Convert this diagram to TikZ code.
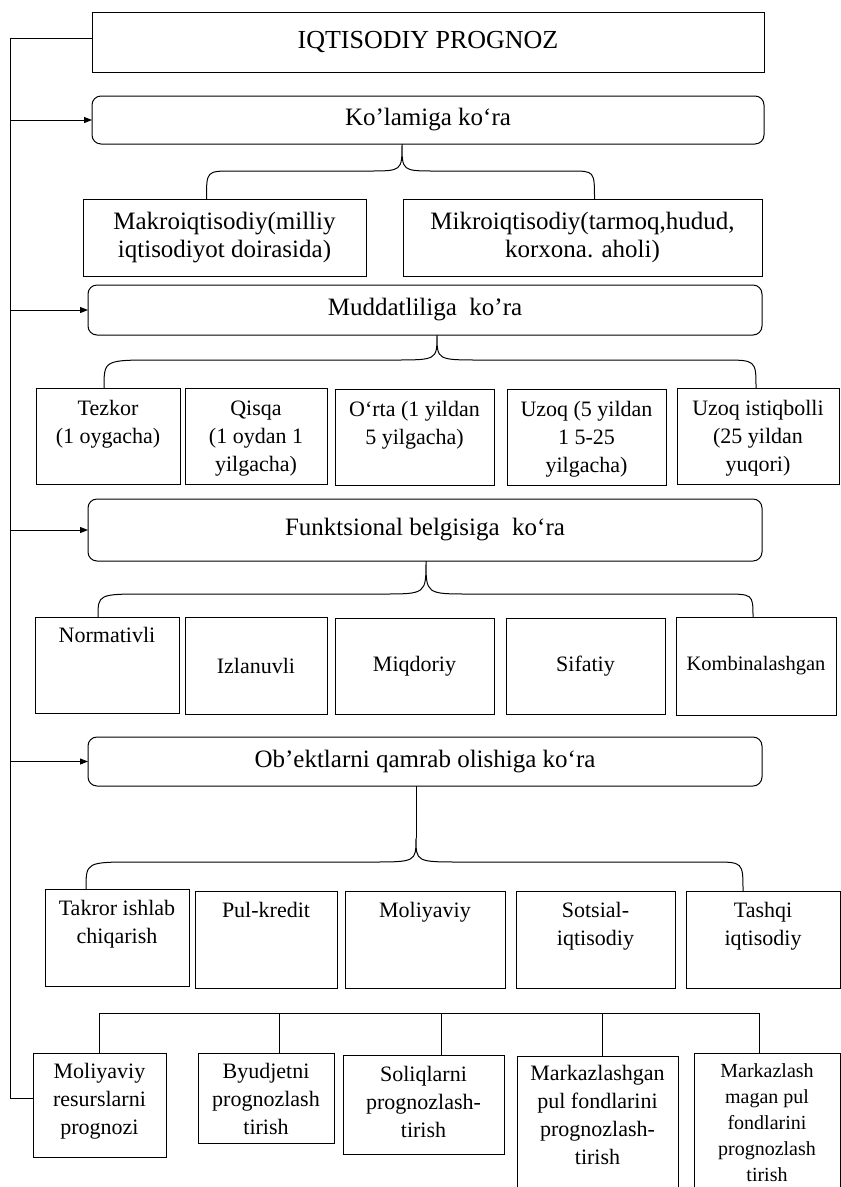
\documentclass[tikz,border=0pt]{standalone}
\usepackage{fontspec}
\setmainfont{Liberation Serif}
\usetikzlibrary{arrows.meta,calc}

% type sizes (1pt of the picture = one unit)
\newcommand\fhead{\fontsize{25}{29}\selectfont}
\newcommand\fmid{\fontsize{22}{28}\selectfont}
\newcommand\fsml{\fontsize{20}{26}\selectfont}

% box with centred text: name, style, x1, y1, x2, y2, text
\newcommand\plainbox[7]{%
  \node[#2, minimum width={#5-#3}, minimum height={#6-#4}] (#1)
    at ({(#3+#5)/2},{(#4+#6)/2}) {#7};}
% box with text hanging from its top edge: name, style, x1, y1, x2, y2, label options, text
\newcommand\hangbox[8]{%
  \node[#2, minimum width={#5-#3}, minimum height={#6-#4},
        label={[toptext,#7]north:{#8}}] (#1)
    at ({(#3+#5)/2},{(#4+#6)/2}) {};}
% curly brace: tip, level, left end, right end, tip reach, left reach, right reach
\newcommand\curly[7]{%
  \draw (#3) .. controls (#3 |- #2) .. ($(#3 |- #2)+(#6,0)$)
    -- ($(#1 |- #2)+(-#5,0)$) .. controls (#1 |- #2) .. (#1)
       .. controls (#1 |- #2) .. ($(#1 |- #2)+(#5,0)$)
    -- ($(#4 |- #2)+(-#7,0)$) .. controls (#4 |- #2) .. (#4);}

\begin{document}
\begin{tikzpicture}[x=1pt, y=-1pt, line width=1pt,
  sqbox/.style={draw, rectangle, inner sep=0pt, outer sep=0pt, align=center, font=\fmid},
  rbox/.style={sqbox, rounded corners=9pt, font=\fhead},
  toptext/.style={anchor=north, align=center, inner sep=0pt, font=\fmid},
  feed/.style={-{Triangle[length=8pt,width=6pt]}}]

\useasboundingbox[fill=white] (0,0) rectangle (841,1187);

% main title and the four classification headers
\plainbox{tp}{sqbox, font=\fontsize{26}{30}\selectfont}{92}{12}{764}{72}{IQTISODIY PROGNOZ}
\plainbox{kol}{rbox}{92}{96}{764}{144}{Ko’lamiga ko‘ra}
\plainbox{mud}{rbox}{88}{285}{762}{335}{Muddatliliga\ \ ko’ra}
\plainbox{fun}{rbox}{88}{499}{762}{561}{Funktsional belgisiga\ \ ko‘ra}
\plainbox{obj}{rbox}{88}{737}{762}{786}{Ob’ektlarni qamrab olishiga ko‘ra}

% by scale
\plainbox{mak}{sqbox, font=\fontsize{25}{28}\selectfont}{83}{199}{366}{276}{Makroiqtisodiy(milliy\\iqtisodiyot doirasida)}
\plainbox{mik}{sqbox, font=\fontsize{25}{28}\selectfont}{403}{199}{762}{276}{Mikroiqtisodiy(tarmoq,hudud,\\korxona. aholi)}

% by term
\hangbox{tez}{sqbox}{36}{388}{180}{484}{yshift=-12pt}{Tezkor\\(1 oygacha)}
\hangbox{qis}{sqbox}{185}{388}{327}{484}{yshift=-12pt}{Qisqa\\(1 oydan 1\\yilgacha)}
\hangbox{ort}{sqbox}{335}{389}{494}{485}{yshift=-12pt}{O‘rta (1 yildan\\5 yilgacha)}
\hangbox{uzo}{sqbox}{507}{389}{666}{485}{yshift=-12pt}{Uzoq (5 yildan\\1 5-25\\yilgacha)}
\hangbox{uzi}{sqbox}{677}{388}{839}{484}{yshift=-12pt}{Uzoq istiqbolli\\(25 yildan\\yuqori)}

% by function
\hangbox{nor}{sqbox}{35}{617}{179}{713}{yshift=-10pt}{Normativli}
\plainbox{izl}{sqbox}{185}{617}{327}{714}{Izlanuvli}
\plainbox{miq}{sqbox}{335}{618}{494}{714}{Miqdoriy}
\plainbox{sif}{sqbox}{506}{618}{665}{714}{Sifatiy}
\plainbox{kom}{sqbox, font=\fontsize{20.5}{24}\selectfont}{676}{617}{836}{715}{Kombinalashgan}

% by coverage of objects
\hangbox{tak}{sqbox}{45}{889}{189}{986}{yshift=-11pt}{Takror ishlab\\chiqarish}
\hangbox{pul}{sqbox}{195}{891}{337}{988}{yshift=-11pt}{Pul-kredit}
\hangbox{mol}{sqbox}{345}{891}{505}{988}{yshift=-11pt}{Moliyaviy}
\hangbox{sot}{sqbox}{516}{891}{675}{988}{yshift=-11pt}{Sotsial-\\iqtisodiy}
\hangbox{tas}{sqbox}{686}{891}{840}{988}{yshift=-11pt}{Tashqi\\iqtisodiy}

% financial forecasts
\hangbox{mr}{sqbox}{33}{1053}{166}{1157}{yshift=-10pt}{Moliyaviy\\resurslarni\\prognozi}
\hangbox{byu}{sqbox}{198}{1053}{334}{1143}{yshift=-10pt}{Byudjetni\\prognozlash\\tirish}
\hangbox{sol}{sqbox}{343}{1055}{504}{1154}{yshift=-11pt}{Soliqlarni\\prognozlash-\\tirish}
\hangbox{mkg}{sqbox}{517}{1056}{678}{1200}{yshift=-9pt}{Markazlashgan\\pul fondlarini\\prognozlash-\\tirish}
\hangbox{mkz}{sqbox}{694}{1053}{840}{1200}{yshift=-10pt, font=\fsml}{Markazlash\\magan pul\\fondlarini\\prognozlash\\tirish}

% left trunk with feeders into the headers
\coordinate (trunk) at (10,0);
\coordinate (t0) at ([yshift=4pt]tp.west);
\coordinate (t1) at ([yshift=7pt]mr.west);
\draw (t0) -- (t0 -| trunk) -- (t1 -| trunk) -- (t1);
\foreach \n in {kol,mud,fun,obj} \draw[feed] (\n.west -| trunk) -- (\n.west);

% braces under the headers
\coordinate (lv1) at (0,171);
\coordinate (b1t) at ([xshift=-26pt]kol.south);
\coordinate (b1l) at ([xshift=-18pt]mak.north);
\coordinate (b1r) at ([xshift=12pt]mik.north);
\curly{b1t}{lv1}{b1l}{b1r}{34}{26}{24}

\coordinate (lv2) at (0,360);
\coordinate (b2t) at ([xshift=12pt]mud.south);
\coordinate (b2l) at ([xshift=-4pt]tez.north);
\coordinate (b2r) at ([xshift=-2pt]uzi.north);
\curly{b2t}{lv2}{b2l}{b2r}{44}{52}{34}

\coordinate (lv3) at (0,594);
\coordinate (b3t) at ([xshift=1pt]fun.south);
\coordinate (b3l) at ([xshift=-9pt]nor.north);
\coordinate (b3r) at ([xshift=-3pt]kom.north);
\curly{b3t}{lv3}{b3l}{b3r}{44}{50}{30}

\coordinate (lv4) at (0,862);
\coordinate (b4s) at ([xshift=-9pt]obj.south);
\coordinate (b4t) at ($(b4s)+(0,52)$);
\coordinate (b4l) at ([xshift=-31pt]tak.north);
\coordinate (b4r) at ([xshift=-20pt]tas.north);
\draw (b4s) -- (b4t);
\curly{b4t}{lv4}{b4l}{b4r}{46}{50}{30}

% bus over the financial forecasts
\coordinate (bus) at (0,1013);
\coordinate (k1) at (mr.north);
\coordinate (k2) at ([xshift=13pt]byu.north);
\coordinate (k3) at ([xshift=17.5pt]sol.north);
\coordinate (k4) at ([xshift=4.5pt]mkg.north);
\coordinate (k5) at ([xshift=-7.5pt]mkz.north);
\draw (k1) -- (k1 |- bus) -- (k5 |- bus) -- (k5);
\foreach \k in {k2,k3,k4} \draw (\k |- bus) -- (\k);

\end{tikzpicture}
\end{document}
